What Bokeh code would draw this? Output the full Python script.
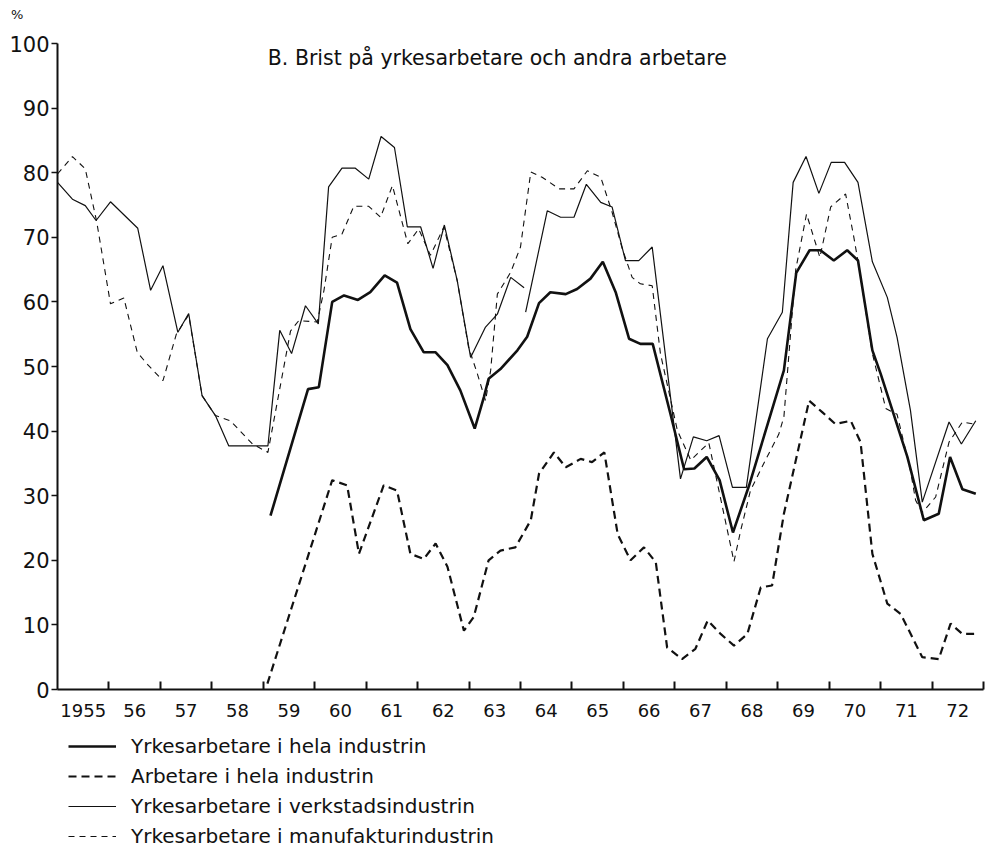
from bokeh.plotting import figure
from bokeh.layouts import column
from bokeh.models import Range1d, FixedTicker, Label, Legend, LegendItem, Div
from bokeh.embed import file_html
from bokeh.resources import INLINE

nan = float("nan")

# Yrkesarbetare i hela industrin (thick solid)
yh_t = [1959.14, 1959.87, 1960.08, 1960.34, 1960.57, 1960.84, 1961.08, 1961.36, 1961.60, 1961.86,
        1962.12, 1962.35, 1962.58, 1962.83, 1963.11, 1963.29, 1963.38, 1963.61, 1963.94, 1964.13,
        1964.36, 1964.58, 1964.88, 1965.10, 1965.36, 1965.60, 1965.85, 1966.11, 1966.33, 1966.57,
        1966.92, 1967.18, 1967.38, 1967.62, 1967.87, 1968.13, 1968.44, 1969.12, 1969.36, 1969.62,
        1969.83, 1970.09, 1970.35, 1970.56, 1970.84, 1971.00, 1971.52, 1971.84, 1972.13, 1972.35,
        1972.59, 1972.85]
yh_v = [26.9, 46.5, 46.8, 60.0, 61.0, 60.3, 61.5, 64.1, 63.0, 55.8,
        52.2, 52.2, 50.2, 46.3, 40.4, 45.3, 48.1, 49.6, 52.5, 54.6,
        59.8, 61.5, 61.2, 62.0, 63.6, 66.2, 61.5, 54.3, 53.5, 53.5,
        42.5, 34.1, 34.2, 36.0, 32.4, 24.3, 31.5, 49.4, 64.5, 68.0,
        68.0, 66.4, 68.0, 66.4, 52.5, 48.9, 36.0, 26.2, 27.2, 36.0,
        31.0, 30.3]

# Arbetare i hela industrin (thick dashed)
ah_t = [1959.08, 1960.34, 1960.63, 1960.86, 1961.34, 1961.60, 1961.86, 1962.12, 1962.35, 1962.58,
        1962.90, 1963.09, 1963.38, 1963.61, 1963.90, 1964.20, 1964.36, 1964.65, 1964.88, 1965.17,
        1965.39, 1965.63, 1965.89, 1966.14, 1966.40, 1966.63, 1966.85, 1967.14, 1967.40, 1967.64,
        1967.89, 1968.15, 1968.41, 1968.67, 1968.89, 1969.12, 1969.61, 1969.87, 1970.12, 1970.42,
        1970.61, 1970.84, 1971.13, 1971.39, 1971.81, 1972.13, 1972.36, 1972.59, 1972.91]
ah_v = [0.9, 32.4, 31.6, 21.0, 31.6, 30.8, 21.0, 20.2, 22.6, 19.0,
        9.1, 11.2, 20.0, 21.5, 22.0, 26.2, 33.4, 36.7, 34.4, 35.7,
        35.2, 36.7, 24.0, 20.0, 22.0, 19.7, 6.5, 4.7, 6.3, 10.7,
        8.6, 6.8, 8.6, 15.8, 16.1, 27.2, 44.7, 42.9, 41.1, 41.6,
        38.3, 21.0, 13.3, 11.7, 5.0, 4.7, 10.2, 8.6, 8.6]

# Yrkesarbetare i verkstadsindustrin (thin solid), break in series 1963/64
vk_t = [1955.00, 1955.29, 1955.54, 1955.75, 1956.03, 1956.56, 1956.81, 1957.05, 1957.34, 1957.55,
        1957.81, 1958.07, 1958.33, 1959.09, 1959.32, 1959.55, 1959.82, 1960.07, 1960.27, 1960.53,
        1960.79, 1961.05, 1961.29, 1961.55, 1961.80, 1962.06, 1962.30, 1962.52, 1962.77, 1963.03,
        1963.32, 1963.55, 1963.81, 1964.07, nan,
        1964.10, 1964.52, 1964.78, 1965.04, 1965.28, 1965.56, 1965.78, 1966.04, 1966.30, 1966.56,
        1967.11, 1967.36, 1967.62, 1967.86, 1968.12, 1968.39, 1968.80, 1969.09, 1969.30, 1969.55,
        1969.80, 1970.04, 1970.30, 1970.56, 1970.84, 1971.13, 1971.32, 1971.58, 1971.81, 1972.33,
        1972.57, 1972.85]
vk_v = [78.5, 75.9, 74.9, 72.6, 75.5, 71.4, 61.8, 65.6, 55.3, 58.2,
        45.5, 42.4, 37.7, 37.7, 55.6, 52.0, 59.4, 56.6, 77.8, 80.7,
        80.7, 79.0, 85.6, 83.9, 71.6, 71.6, 65.2, 71.9, 63.3, 51.4,
        56.1, 58.1, 63.8, 62.2, nan,
        58.4, 74.1, 73.1, 73.1, 78.2, 75.4, 74.7, 66.4, 66.4, 68.5,
        32.6, 39.1, 38.5, 39.3, 31.3, 31.3, 54.3, 58.4, 78.5, 82.5,
        76.8, 81.6, 81.6, 78.5, 66.2, 60.7, 54.5, 43.2, 29.0, 41.4,
        38.0, 41.6]

# Yrkesarbetare i manufakturindustrin (thin dashed)
mf_t = [1955.00, 1955.29, 1955.54, 1955.76, 1956.03, 1956.29, 1956.55, 1956.74, 1957.05, 1957.31,
        1957.55, 1957.81, 1958.07, 1958.36, 1958.79, 1959.09, 1959.53, 1959.69, 1960.05, 1960.18,
        1960.34, 1960.53, 1960.76, 1961.05, 1961.28, 1961.51, 1961.81, 1962.02, 1962.25, 1962.51,
        1962.77, 1962.99, 1963.16, 1963.32, 1963.42, 1963.55, 1963.81, 1964.00, 1964.20, 1964.42,
        1964.75, 1965.04, 1965.30, 1965.56, 1965.78, 1965.98, 1966.17, 1966.33, 1966.56, 1966.72,
        1967.05, 1967.31, 1967.66, 1968.15, 1968.28, 1968.47, 1968.76, 1969.02, 1969.12, 1969.35,
        1969.56, 1969.82, 1970.03, 1970.32, 1970.48, 1970.58, 1970.84, 1971.10, 1971.32, 1971.58,
        1971.68, 1971.81, 1972.07, 1972.33, 1972.59, 1972.81]
mf_v = [79.8, 82.5, 80.6, 72.5, 59.7, 60.6, 52.2, 50.4, 47.8, 55.0,
        58.0, 45.5, 42.4, 41.6, 38.0, 36.7, 55.5, 57.1, 56.9, 61.8,
        70.0, 70.5, 74.8, 74.8, 73.1, 78.0, 69.0, 71.3, 67.2, 71.6,
        63.3, 53.0, 48.9, 44.7, 49.4, 61.2, 64.6, 68.5, 80.1, 79.3,
        77.5, 77.5, 80.3, 79.3, 73.9, 68.2, 63.8, 62.8, 62.5, 52.0,
        40.1, 35.5, 38.2, 19.8, 24.6, 30.8, 35.5, 39.5, 42.2, 65.0,
        73.6, 66.9, 74.7, 76.7, 70.0, 65.4, 52.0, 43.5, 42.6, 33.9,
        29.3, 27.4, 29.8, 38.3, 41.4, 41.1]

year_labels = ["1955", "56", "57", "58", "59", "60", "61", "62", "63",
               "64", "65", "66", "67", "68", "69", "70", "71", "72"]
y_ticks = [0, 10, 20, 30, 40, 50, 60, 70, 80, 90, 100]

series_names = ["Yrkesarbetare i hela industrin", "Arbetare i hela industrin",
                "Yrkesarbetare i verkstadsindustrin", "Yrkesarbetare i manufakturindustrin"]
title_text = "B. Brist på yrkesarbetare och andra arbetare"
unit_text = "%"

FONT = "DejaVu Sans"
INK = "#111111"

STYLE_YH = dict(line_color=INK, line_width=2.6)
STYLE_AH = dict(line_color=INK, line_width=2.2, line_dash="8 5")
STYLE_VK = dict(line_color=INK, line_width=1.2)
STYLE_MF = dict(line_color=INK, line_width=1.1, line_dash="6 5")


def bare(fig):
    fig.xgrid.visible = False
    fig.ygrid.visible = False
    fig.outline_line_color = None
    fig.background_fill_color = "white"
    fig.border_fill_color = "white"


# unit sign above the y axis
hdr = Div(text=unit_text, width=986, height=22, margin=(0, 0, 0, 0),
          styles={"font-family": FONT, "font-size": "13px", "color": INK,
                  "line-height": "13px", "padding-left": "11px", "padding-top": "8px",
                  "box-sizing": "border-box"})

# main chart
p = figure(frame_width=926, frame_height=646, output_backend="svg", toolbar_location=None,
           x_range=Range1d(1955, 1973), y_range=Range1d(0, 100),
           min_border_left=57, min_border_right=2, min_border_top=21, min_border_bottom=40)
bare(p)

mid_years = [1955.5 + i for i in range(len(year_labels))]
p.xaxis.ticker = FixedTicker(ticks=mid_years, minor_ticks=[1956 + i for i in range(len(year_labels))])
p.xaxis.major_label_overrides = {m: lab for m, lab in zip(mid_years, year_labels)}
p.xaxis.major_tick_in = 0
p.xaxis.major_tick_out = 0
p.xaxis.minor_tick_in = 8
p.xaxis.minor_tick_out = 0
p.xaxis.minor_tick_line_width = 2
p.xaxis.minor_tick_line_color = INK
p.xaxis.axis_line_width = 2
p.xaxis.axis_line_color = INK
p.xaxis.major_label_text_font = FONT
p.xaxis.major_label_text_font_size = "18px"
p.xaxis.major_label_text_color = INK
p.xaxis.major_label_standoff = 14

p.yaxis.ticker = FixedTicker(ticks=y_ticks)
p.yaxis.minor_tick_line_color = None
p.yaxis.major_tick_in = 0
p.yaxis.major_tick_out = 6
p.yaxis.major_tick_line_width = 1.5
p.yaxis.major_tick_line_color = INK
p.yaxis.axis_line_width = 2
p.yaxis.axis_line_color = INK
p.yaxis.major_label_text_font = FONT
p.yaxis.major_label_text_font_size = "21px"
p.yaxis.major_label_text_color = INK
p.yaxis.major_label_standoff = 2

p.line(ah_t, ah_v, **STYLE_AH)
p.line(mf_t, mf_v, **STYLE_MF)
p.line(vk_t, vk_v, **STYLE_VK)
p.line(yh_t, yh_v, **STYLE_YH)

p.add_layout(Label(x=1963.55, y=97.8, text=title_text, text_align="center",
                   text_baseline="middle", text_font=FONT, text_font_size="20.5px",
                   text_color=INK))

# legend strip below the chart (series drawn out of view; only the legend shows)
lg = figure(width=986, height=124, output_backend="svg", toolbar_location=None,
            x_axis_location=None, y_axis_location=None,
            x_range=Range1d(0, 1), y_range=Range1d(0, 1),
            min_border_left=0, min_border_right=0, min_border_top=0, min_border_bottom=0)
bare(lg)
l_yh = lg.line(yh_t, yh_v, **STYLE_YH)
l_ah = lg.line(ah_t, ah_v, **STYLE_AH)
l_vk = lg.line(vk_t, vk_v, **STYLE_VK)
l_mf = lg.line(mf_t, mf_v, **STYLE_MF)

legend = Legend(items=[LegendItem(label=series_names[0], renderers=[l_yh]),
                       LegendItem(label=series_names[1], renderers=[l_ah]),
                       LegendItem(label=series_names[2], renderers=[l_vk]),
                       LegendItem(label=series_names[3], renderers=[l_mf])],
                location=(11, 5), orientation="vertical",
                glyph_width=48, glyph_height=24, label_height=24, spacing=6,
                label_standoff=15, padding=4, margin=0,
                label_text_font=FONT, label_text_font_size="20px", label_text_color=INK,
                border_line_color=None, background_fill_alpha=0)
lg.add_layout(legend, "center")

open("out.html", "w").write(file_html(column(hdr, p, lg, spacing=0), INLINE))
